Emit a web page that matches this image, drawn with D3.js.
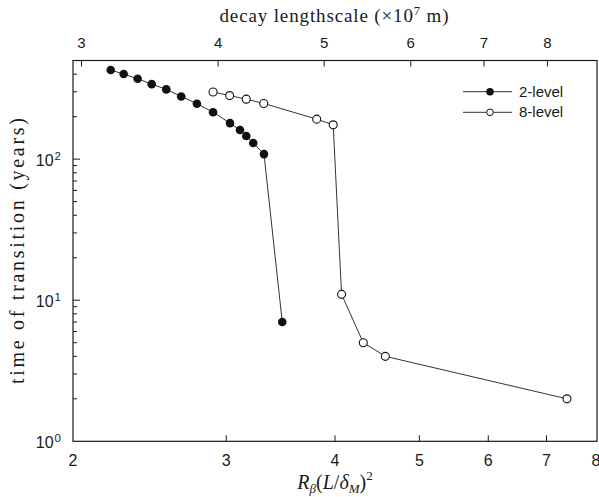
<!DOCTYPE html>
<html><head><meta charset="utf-8">
<script src="https://cdn.jsdelivr.net/npm/d3@7"></script>
<style>body{margin:0;background:#fff}</style>
</head><body>
<svg id="c" width="599" height="497"></svg>
<script>
// ---- data ----
const level2X = [2.210, 2.287, 2.373, 2.463, 2.560, 2.663, 2.776, 2.897, 3.030, 3.111, 3.163, 3.222, 3.315, 3.479];
const level2Y = [428, 401, 371, 340, 312, 278, 247, 215, 180, 161, 146, 130, 108.5, 7];
const level8X = [2.897, 3.027, 3.163, 3.313, 3.811, 3.981, 4.070, 4.311, 4.570, 7.389];
const level8Y = [299, 282, 266, 248, 192, 175, 11, 5, 4, 2];
const xTicks = [2, 3, 4, 5, 6, 7, 8];
const topTicks = [3, 4, 5, 6, 7, 8];
const yTicks = [1, 10, 100];
const yTickExp = ["0", "1", "2"];
const seriesNames = ["2-level", "8-level"];

const svg = d3.select("#c");
const L = 73, R = 597, T = 60.5, B = 441.3;
const x = d3.scaleLog().domain([2, 8]).range([L, R]);
const xTop = d3.scaleLog().domain([2.947, 8.88]).range([L, R]);
const y = d3.scaleLog().domain([1, 500]).range([B, T]);

const sans = "'Liberation Sans', Arial, Helvetica, sans-serif";
const serif = "'Liberation Serif', 'Times New Roman', serif";
const ink = "#1a1a1a";

// frame
svg.append("rect").attr("x", L).attr("y", T).attr("width", R - L).attr("height", B - T)
  .attr("fill", "none").attr("stroke", ink).attr("stroke-width", 1.2);

// bottom ticks
xTicks.forEach(v => {
  const px = x(v);
  if (v > 2 && v < 8) svg.append("line").attr("x1", px).attr("x2", px).attr("y1", B).attr("y2", B - 6).attr("stroke", ink);
  svg.append("text").attr("x", v === 8 ? px - 1 : px).attr("y", 466).attr("text-anchor", "middle")
    .attr("font-family", sans).attr("font-size", 16).attr("fill", ink).text(v);
});
// top ticks
topTicks.forEach(v => {
  const px = xTop(v);
  svg.append("line").attr("x1", px).attr("x2", px).attr("y1", T).attr("y2", T + 6).attr("stroke", ink);
  svg.append("text").attr("x", px).attr("y", 48).attr("text-anchor", "middle")
    .attr("font-family", sans).attr("font-size", 15).attr("fill", ink).text(v);
});
// y ticks major + minor
for (let d = 0; d < 3; d++) {
  for (let m = 1; m <= 9; m++) {
    const v = m * Math.pow(10, d);
    if (v > 500) continue;
    const py = y(v);
    const len = m === 1 ? 7 : 4;
    if (v > 1) svg.append("line").attr("x1", L).attr("x2", L + len).attr("y1", py).attr("y2", py).attr("stroke", ink);
  }
}
yTicks.forEach((v, i) => {
  const t = svg.append("text").attr("x", 61).attr("y", y(v) + 7).attr("text-anchor", "end")
    .attr("font-family", sans).attr("font-size", 16).attr("fill", ink);
  t.append("tspan").text("10");
  t.append("tspan").attr("dx", 1).attr("dy", -6).attr("font-size", 11.5).text(yTickExp[i]);
});

// axis titles
const tt = svg.append("text").attr("x", 334).attr("y", 22).attr("text-anchor", "middle")
  .attr("font-family", serif).attr("font-size", 19).attr("fill", ink)
  .attr("textLength", 229).attr("lengthAdjust", "spacing");
tt.append("tspan").text("decay lengthscale (×10");
tt.append("tspan").attr("dy", -7).attr("font-size", 12.5).text("7");
tt.append("tspan").attr("dy", 7).text(" m)");

const xl = svg.append("text").attr("x", 335).attr("y", 489).attr("text-anchor", "middle")
  .attr("font-family", serif).attr("font-size", 20).attr("fill", ink);
xl.append("tspan").attr("font-style", "italic").text("R");
xl.append("tspan").attr("dy", 4).attr("font-size", 13).attr("font-style", "italic").text("β");
xl.append("tspan").attr("dy", -4).text("(");
xl.append("tspan").attr("font-style", "italic").text("L");
xl.append("tspan").text("/");
xl.append("tspan").attr("font-style", "italic").text("δ");
xl.append("tspan").attr("dy", 4).attr("font-size", 13).attr("font-style", "italic").text("M");
xl.append("tspan").attr("dy", -4).text(")");
xl.append("tspan").attr("dy", -9).attr("font-size", 13).text("2");

svg.append("text").attr("transform", "translate(24,251) rotate(-90)").attr("text-anchor", "middle")
  .attr("font-family", serif).attr("font-size", 20).attr("fill", ink)
  .attr("textLength", 266).attr("lengthAdjust", "spacing").text("time of transition (years)");

// series
const line = d3.line().x(d => x(d[0])).y(d => y(d[1]));
const s2 = level2X.map((v, i) => [v, level2Y[i]]);
const s8 = level8X.map((v, i) => [v, level8Y[i]]);
svg.append("path").datum(s2).attr("d", line).attr("fill", "none").attr("stroke", "#333").attr("stroke-width", 1);
svg.append("path").datum(s8).attr("d", line).attr("fill", "none").attr("stroke", "#333").attr("stroke-width", 1);
svg.selectAll(".p2").data(s2).enter().append("circle").attr("cx", d => x(d[0])).attr("cy", d => y(d[1]))
  .attr("r", 4.3).attr("fill", "#111");
svg.selectAll(".p8").data(s8).enter().append("circle").attr("cx", d => x(d[0])).attr("cy", d => y(d[1]))
  .attr("r", 4).attr("fill", "#fff").attr("stroke", "#111").attr("stroke-width", 1.1);

// legend
const ly = [91.7, 112.3];
seriesNames.forEach((n, i) => {
  svg.append("line").attr("x1", 463).attr("x2", 512).attr("y1", ly[i]).attr("y2", ly[i]).attr("stroke", "#333");
  if (i === 0) svg.append("circle").attr("cx", 490).attr("cy", ly[i]).attr("r", 3.8).attr("fill", "#111");
  else svg.append("circle").attr("cx", 490).attr("cy", ly[i]).attr("r", 3.3).attr("fill", "#fff").attr("stroke", "#111");
  svg.append("text").attr("x", 519).attr("y", ly[i] + 5).attr("font-family", sans).attr("font-size", 15)
    .attr("fill", ink).text(n);
});
</script>
</body></html>
